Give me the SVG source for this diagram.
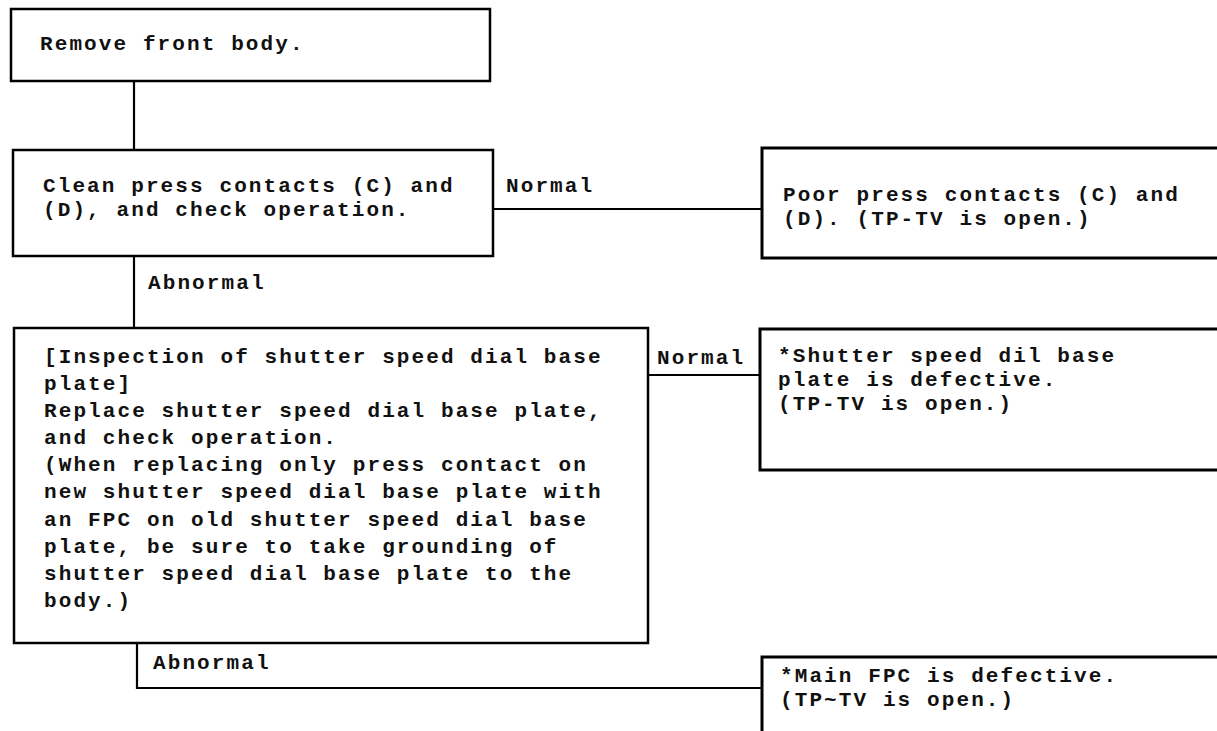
<svg xmlns="http://www.w3.org/2000/svg" width="1217" height="731" viewBox="0 0 1217 731">
<style>
.box{fill:#fff;stroke:#000;stroke-width:2.5}
.rbox{fill:#fff;stroke:#000;stroke-width:3}
.t{font-family:"Liberation Mono","Courier New",monospace;font-size:21px;letter-spacing:2.1px;font-weight:bold;fill:#111}
.c{fill:none;stroke:#000;stroke-width:2.2}
</style>
<rect width="1217" height="731" fill="#fff"/>
<g id="connectors">
<line class="c" x1="134" y1="81" x2="134" y2="150"/>
<line class="c" x1="134" y1="256" x2="134" y2="328"/>
<line class="c" x1="493" y1="209" x2="762" y2="209"/>
<line class="c" x1="648" y1="375" x2="760" y2="375"/>
<polyline class="c" points="137,643 137,688 762,688"/>
<text class="t" x="506" y="192">Normal</text>
<text class="t" x="148" y="289">Abnormal</text>
<text class="t" x="657" y="364">Normal</text>
<text class="t" x="153" y="669">Abnormal</text>
</g>
<g id="n1">
<rect class="box" x="11" y="9" width="479" height="72"/>
<text class="t" x="40" y="50">Remove front body.</text>
</g>
<g id="n2">
<rect class="box" x="13" y="150" width="480" height="106"/>
<text class="t" x="43" y="192">Clean press contacts (C) and</text>
<text class="t" x="43" y="216">(D), and check operation.</text>
</g>
<g id="n3">
<rect class="rbox" x="762" y="148" width="480" height="110"/>
<text class="t" x="783" y="201">Poor press contacts (C) and</text>
<text class="t" x="783" y="225">(D). (TP-TV is open.)</text>
</g>
<g id="n4">
<rect class="box" x="14" y="328" width="634" height="315"/>
<g class="t">
<text x="44" y="363">[Inspection of shutter speed dial base</text>
<text x="44" y="390">plate]</text>
<text x="44" y="417">Replace shutter speed dial base plate,</text>
<text x="44" y="444">and check operation.</text>
<text x="44" y="471">(When replacing only press contact on</text>
<text x="44" y="498">new shutter speed dial base plate with</text>
<text x="44" y="526">an FPC on old shutter speed dial base</text>
<text x="44" y="553">plate, be sure to take grounding of</text>
<text x="44" y="580">shutter speed dial base plate to the</text>
<text x="44" y="607">body.)</text>
</g>
</g>
<g id="n5">
<rect class="rbox" x="760" y="329" width="480" height="141"/>
<text class="t" x="778" y="362">*Shutter speed dil base</text>
<text class="t" x="778" y="386">plate is defective.</text>
<text class="t" x="778" y="410">(TP-TV is open.)</text>
</g>
<g id="n6">
<rect class="rbox" x="762" y="657" width="480" height="100"/>
<text class="t" x="780" y="682">*Main FPC is defective.</text>
<text class="t" x="780" y="706">(TP~TV is open.)</text>
</g>
</svg>
